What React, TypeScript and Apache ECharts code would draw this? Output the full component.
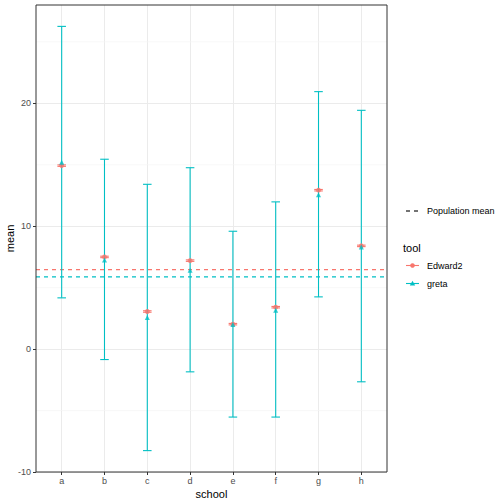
import React, { useEffect, useRef } from "react";
import * as echarts from "echarts";

// Schools and estimated means from the two tools
const schools = ["a", "b", "c", "d", "e", "f", "g", "h"];
const edward2Mean = [14.93, 7.5, 3.06, 7.2, 2.03, 3.41, 12.93, 8.4];
const edward2Lower = [14.87, 7.44, 3.0, 7.14, 1.97, 3.35, 12.87, 8.34];
const edward2Upper = [14.99, 7.56, 3.12, 7.26, 2.09, 3.47, 12.99, 8.46];
const gretaMean = [15.2, 7.26, 2.57, 6.42, 2.0, 3.17, 12.55, 8.3];
const gretaLower = [4.17, -0.85, -8.26, -1.85, -5.53, -5.53, 4.25, -2.66];
const gretaUpper = [26.26, 15.45, 13.41, 14.76, 9.59, 11.98, 20.95, 19.43];
const populationMean = [6.47, 5.88]; // Edward2, greta
const yTicks = [-10, 0, 10, 20];
const yMinor = [-5, 5, 15, 25];

const RED = "#F8766D";
const TEAL = "#00BFC4";
const FONT = "Liberation Sans, Arial, sans-serif";

const positions = schools.map((_, i) => i + 1);

function errorBarRender(color: string) {
  return (params: any, api: any) => {
    const x = api.value(0);
    const lo = api.coord([x, api.value(1)]);
    const hi = api.coord([x, api.value(2)]);
    const half = (api.size([0.2, 0])[0] as number) / 2;
    const style = { stroke: color, lineWidth: 1.1 };
    return {
      type: "group",
      children: [
        { type: "line", shape: { x1: lo[0], y1: lo[1], x2: hi[0], y2: hi[1] }, style },
        { type: "line", shape: { x1: lo[0] - half, y1: lo[1], x2: lo[0] + half, y2: lo[1] }, style },
        { type: "line", shape: { x1: hi[0] - half, y1: hi[1], x2: hi[0] + half, y2: hi[1] }, style },
      ],
    };
  };
}

// Horizontal line spanning the whole panel at the item's y value
function hLineRender(getStyle: (i: number) => any) {
  return (params: any, api: any) => {
    const cs = params.coordSys;
    const y = api.coord([1, api.value(0)])[1];
    return {
      type: "line",
      shape: { x1: cs.x, y1: y, x2: cs.x + cs.width, y2: y },
      style: getStyle(params.dataIndex),
    };
  };
}

export default function App() {
  const ref = useRef<HTMLDivElement>(null);

  useEffect(() => {
    if (!ref.current) return;
    const chart = echarts.init(ref.current, undefined, { renderer: "svg" });

    const legendX = 406;
    const option: any = {
      animation: false,
      backgroundColor: "#FFFFFF",
      grid: {
        left: 36,
        top: 5,
        width: 351,
        height: 467,
        outerBoundsMode: "none",
        containLabel: false,
        show: true,
        borderColor: "#333333",
        borderWidth: 1,
        backgroundColor: "transparent",
        z: 10,
      },
      xAxis: {
        type: "value",
        min: 0.4,
        max: 8.6,
        name: "school",
        nameLocation: "middle",
        nameGap: 16,
        nameMoveOverlap: false,
        nameTextStyle: { color: "#000", fontSize: 11, fontFamily: FONT },
        axisLine: { show: false, onZero: false },
        axisTick: { show: true, length: 3, lineStyle: { color: "#333333" }, customValues: positions },
        axisLabel: {
          customValues: positions,
          formatter: (v: number) => schools[Math.round(v) - 1] ?? "",
          color: "#4D4D4D",
          fontSize: 9,
          fontFamily: FONT,
          margin: 4,
        },
        splitLine: { show: true, lineStyle: { color: "#EBEBEB", width: 1 } },
      },
      yAxis: {
        type: "value",
        min: -10,
        max: 28,
        name: "mean",
        nameLocation: "middle",
        nameGap: 21,
        nameMoveOverlap: false,
        nameTextStyle: { color: "#000", fontSize: 11, fontFamily: FONT },
        axisLine: { show: false, onZero: false },
        axisTick: { show: true, length: 3, lineStyle: { color: "#333333" }, customValues: yTicks },
        axisLabel: { customValues: yTicks, color: "#4D4D4D", fontSize: 9, fontFamily: FONT, margin: 5 },
        splitLine: { show: true, lineStyle: { color: "#EBEBEB", width: 1 } },
      },
      series: [
        {
          name: "minor grid",
          type: "custom",
          z: 1,
          silent: true,
          renderItem: hLineRender(() => ({ stroke: "#F5F5F5", lineWidth: 0.7 })),
          data: yMinor.map((v) => [v]),
          encode: { y: 0 },
        },
        {
          name: "Population mean",
          type: "custom",
          z: 2,
          silent: true,
          renderItem: hLineRender((i) => ({
            stroke: i === 0 ? RED : TEAL,
            lineWidth: 1.1,
            lineDash: [4, 4],
          })),
          data: populationMean.map((v) => [v]),
          encode: { y: 0 },
        },
        {
          name: "Edward2 interval",
          type: "custom",
          z: 3,
          renderItem: errorBarRender(RED),
          data: positions.map((p, i) => [p, edward2Lower[i], edward2Upper[i]]),
          encode: { x: 0, y: [1, 2] },
        },
        {
          name: "greta interval",
          type: "custom",
          z: 3,
          renderItem: errorBarRender(TEAL),
          data: positions.map((p, i) => [p, gretaLower[i], gretaUpper[i]]),
          encode: { x: 0, y: [1, 2] },
        },
        {
          name: "Edward2",
          type: "scatter",
          z: 4,
          symbol: "circle",
          symbolSize: 5,
          itemStyle: { color: RED },
          data: positions.map((p, i) => [p, edward2Mean[i]]),
        },
        {
          name: "greta",
          type: "scatter",
          z: 4,
          symbol: "triangle",
          symbolSize: 5,
          itemStyle: { color: TEAL },
          data: positions.map((p, i) => [p, gretaMean[i]]),
        },
      ],
      graphic: [
        // Population mean key
        { type: "line", shape: { x1: legendX, y1: 211, x2: legendX + 4, y2: 211 }, style: { stroke: "#000", lineWidth: 1.1 } },
        { type: "line", shape: { x1: legendX + 8, y1: 211, x2: legendX + 12, y2: 211 }, style: { stroke: "#000", lineWidth: 1.1 } },
        { type: "text", x: 427, y: 211, style: { text: "Population mean", fill: "#000", fontSize: 9, fontFamily: FONT, verticalAlign: "middle" } },
        // tool legend
        { type: "text", x: 403, y: 248, style: { text: "tool", fill: "#000", fontSize: 11, fontFamily: FONT, verticalAlign: "middle" } },
        { type: "line", shape: { x1: legendX, y1: 265.5, x2: legendX + 13, y2: 265.5 }, style: { stroke: RED, lineWidth: 1.1 } },
        { type: "circle", shape: { cx: legendX + 6.5, cy: 265.5, r: 2.3 }, style: { fill: RED } },
        { type: "text", x: 427, y: 265.5, style: { text: "Edward2", fill: "#000", fontSize: 9, fontFamily: FONT, verticalAlign: "middle" } },
        { type: "line", shape: { x1: legendX, y1: 283.5, x2: legendX + 13, y2: 283.5 }, style: { stroke: TEAL, lineWidth: 1.1 } },
        { type: "polygon", shape: { points: [[legendX + 6.5, 280.8], [legendX + 9.2, 285.5], [legendX + 3.8, 285.5]] }, style: { fill: TEAL } },
        { type: "text", x: 427, y: 283.5, style: { text: "greta", fill: "#000", fontSize: 9, fontFamily: FONT, verticalAlign: "middle" } },
      ],
    };

    chart.setOption(option);
    return () => chart.dispose();
  }, []);

  return <div ref={ref} style={{ width: 504, height: 504, position: "absolute", left: 0, top: 0 }} />;
}
